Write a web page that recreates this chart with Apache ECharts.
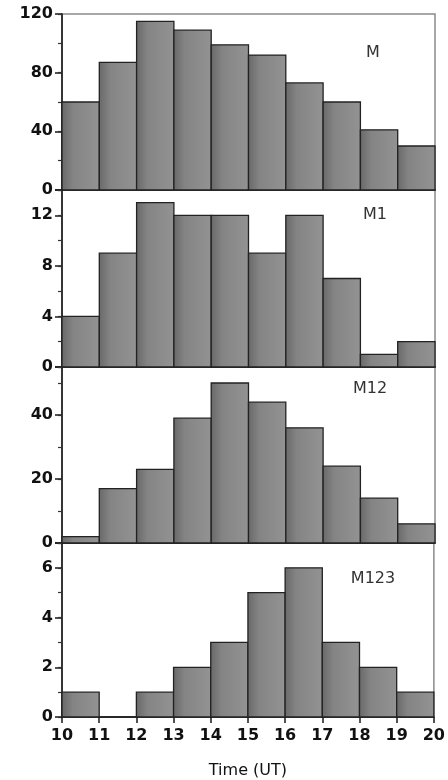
<!DOCTYPE html>
<html>
<head>
<meta charset="utf-8">
<script src="https://cdn.jsdelivr.net/npm/echarts@6/dist/echarts.min.js"></script>
<style>html,body{margin:0;padding:0;background:#fff;}#c{width:448px;height:780px;}</style>
</head>
<body>
<div id="c"></div>
<script>
// ---- data ----
var hourStarts = [10, 11, 12, 13, 14, 15, 16, 17, 18, 19];
var xTicks = [10, 11, 12, 13, 14, 15, 16, 17, 18, 19, 20];
var panelNames = ['M', 'M1', 'M12', 'M123'];
var valuesM    = [60, 87, 115, 109, 99, 92, 73, 60, 41, 30];
var valuesM1   = [4, 9, 13, 12, 12, 9, 12, 7, 1, 2];
var valuesM12  = [2, 17, 23, 39, 50, 44, 36, 24, 14, 6];
var valuesM123 = [1, 0, 1, 2, 3, 5, 6, 3, 2, 1];
var yMax       = [120, 14, 55, 7];
var yMajor     = [40, 4, 20, 2];
var yMinor     = [20, 2, 10, 1];
var xTitle = 'Time (UT)';

var allValues = [valuesM, valuesM1, valuesM12, valuesM123];

// ---- layout ----
var grids = [
  {left: 62, right: 13, top: 14, height: 176},
  {left: 62, right: 13, top: 190, height: 177},
  {left: 62, right: 13, top: 367, height: 176},
  {left: 62, right: 13, top: 543, height: 174}
];
var labelPos = [[373, 53], [375, 215], [370, 389], [373, 579]];

var fontFam = '"DejaVu Sans", "Liberation Sans", Arial, sans-serif';

var option = {
  backgroundColor: '#fff',
  animation: false,
  grid: grids.map(function (g) {
    return Object.assign({show: true, borderColor: '#8a8a8a', borderWidth: 1.5, backgroundColor: 'transparent'}, g);
  }),
  xAxis: [],
  yAxis: [],
  series: [],
  graphic: []
};

for (var i = 0; i < 4; i++) {
  var last = i === 3;
  option.xAxis.push({
    type: 'value', gridIndex: i, min: 10, max: 20, interval: 1,
    axisLine: {show: true, onZero: false, lineStyle: {color: '#1a1a1a', width: 1.6}},
    axisTick: {show: last, length: 6, lineStyle: {color: '#1a1a1a', width: 1.5}},
    axisLabel: {show: last, margin: 11, color: '#111', fontFamily: fontFam, fontWeight: 'bold', fontSize: 16},
    splitLine: {show: false},
    name: last ? xTitle : '',
    nameLocation: 'middle', nameGap: 46,
    nameTextStyle: {color: '#111', fontFamily: fontFam, fontSize: 16}
  });
  // major axis with labels
  option.yAxis.push({
    type: 'value', gridIndex: i, min: 0, max: yMax[i], interval: yMajor[i],
    axisLine: {show: true, lineStyle: {color: '#1a1a1a', width: 1.6}},
    axisTick: {show: true, length: 7, lineStyle: {color: '#1a1a1a', width: 1.5}},
    axisLabel: {
      margin: 9, color: '#111', fontFamily: fontFam, fontWeight: 'bold', fontSize: 16,
      formatter: (function (maj) { return function (v) { return (v % maj === 0) ? String(v) : ''; }; })(yMajor[i])
    },
    splitLine: {show: false}
  });
  // minor tick axis
  option.yAxis.push({
    type: 'value', gridIndex: i, min: 0, max: yMax[i], interval: yMinor[i], position: 'left',
    axisLine: {show: false},
    axisTick: {show: true, length: 4, lineStyle: {color: '#333', width: 1.2}},
    axisLabel: {show: false},
    splitLine: {show: false}
  });
  var data = hourStarts.map(function (h, k) { return [h, allValues[i][k]]; });
  option.series.push({
    type: 'custom', xAxisIndex: i, yAxisIndex: i * 2,
    data: data,
    renderItem: function (params, api) {
      var x0 = api.value(0), v = api.value(1);
      var p0 = api.coord([x0, 0]);
      var p1 = api.coord([x0 + 1, v]);
      return {
        type: 'rect',
        shape: {x: p0[0], y: p1[1], width: p1[0] - p0[0], height: p0[1] - p1[1]},
        style: {
          fill: new echarts.graphic.LinearGradient(0, 0, 1, 0, [
            {offset: 0, color: '#686868'},
            {offset: 0.3, color: '#848484'},
            {offset: 1, color: '#939393'}
          ]),
          stroke: '#222', lineWidth: 1.3
        }
      };
    }
  });
  option.graphic.push({
    type: 'text', x: labelPos[i][0], y: labelPos[i][1], z: 10,
    style: {text: panelNames[i], fill: '#333', font: '16px ' + fontFam, textAlign: 'center', textVerticalAlign: 'middle'}
  });
}

var chart = echarts.init(document.getElementById('c'), null, {renderer: 'canvas'});
chart.setOption(option);
</script>
</body>
</html>
